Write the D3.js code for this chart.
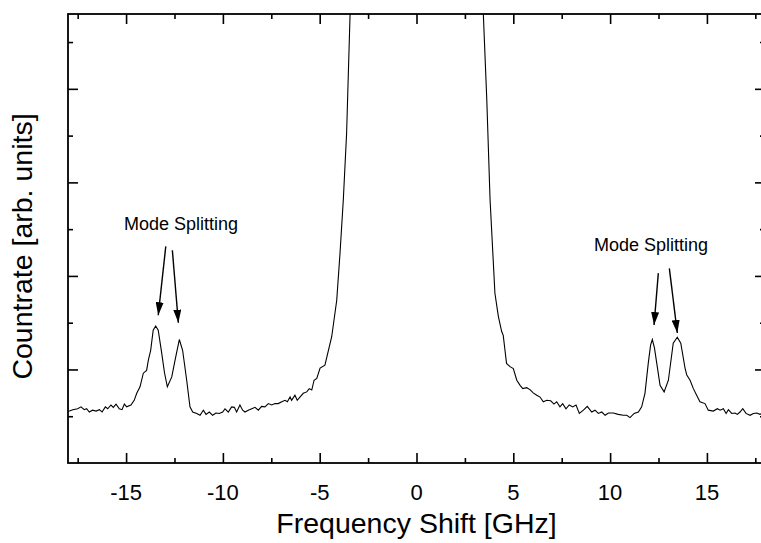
<!DOCTYPE html>
<html>
<head>
<meta charset="utf-8">
<script src="https://cdn.jsdelivr.net/npm/d3@7"></script>
<style>
body { margin: 0; background: #fff; }
svg text { font-family: "Liberation Sans", Arial, sans-serif; fill: #000; }
</style>
</head>
<body>
<div id="chart"></div>
<script>
var width = 761;
var height = 543;

// spectrum: frequency shift [GHz] and countrate [arb. units]
var shift = [
  -18.00,-17.93,-17.75,-17.50,-17.33,-17.16,-17.04,-16.90,-16.73,-16.55,
  -16.38,-16.24,-16.07,-15.95,-15.78,-15.66,-15.52,-15.35,-15.21,-15.09,
  -14.97,-14.75,-14.58,-14.45,-14.28,-14.11,-13.94,-13.85,-13.73,-13.60,
  -13.47,-13.34,-13.16,-13.02,-12.87,-12.64,-12.47,-12.25,-12.08,-11.87,
  -11.70,-11.56,-11.35,-11.18,-11.01,-10.87,-10.70,-10.53,-10.36,-10.19,
  -10.01,-9.89,-9.72,-9.55,-9.41,-9.29,-9.12,-8.98,-8.86,-8.69,
  -8.51,-8.34,-8.17,-8.00,-7.83,-7.65,-7.48,-7.31,-7.14,-6.96,
  -6.79,-6.67,-6.53,-6.45,-6.28,-6.16,-6.02,-5.85,-5.67,-5.54,
  -5.41,-5.29,-5.15,-4.98,-4.73,-4.38,-4.12,-3.95,-3.78,-3.61,
  -3.43,-3.20,-2.00,0.00,2.00,3.20,3.45,3.63,3.80,4.05,
  4.23,4.40,4.48,4.57,4.65,4.83,5.00,5.18,5.35,5.49,
  5.69,5.86,6.03,6.21,6.38,6.55,6.73,6.93,7.10,7.24,
  7.41,7.55,7.72,7.89,8.07,8.24,8.41,8.62,8.82,9.05,
  9.22,9.39,9.57,9.74,9.91,10.17,10.42,10.68,10.86,11.03,
  11.24,11.46,11.63,11.80,11.97,12.09,12.18,12.29,12.41,12.58,
  12.79,13.01,13.26,13.47,13.65,13.87,13.96,14.13,14.30,14.47,
  14.64,14.90,15.07,15.33,15.54,15.68,15.85,15.99,16.11,16.28,
  16.45,16.57,16.71,16.85,17.02,17.23,17.40,17.57,17.74,18.00
];
var counts = [
  1.10,1.11,1.14,1.16,1.20,1.14,1.16,1.09,1.13,1.11,
  1.14,1.09,1.20,1.16,1.24,1.19,1.26,1.16,1.14,1.26,
  1.20,1.24,1.34,1.49,1.63,1.92,1.98,2.20,2.41,2.84,
  2.93,2.84,2.35,1.94,1.63,1.84,2.20,2.64,2.41,1.77,
  1.20,1.09,1.06,1.02,1.13,1.04,1.09,1.02,1.07,1.06,
  1.09,1.16,1.09,1.20,1.19,1.09,1.24,1.13,1.09,1.13,
  1.16,1.19,1.13,1.21,1.20,1.27,1.24,1.27,1.27,1.31,
  1.34,1.31,1.41,1.34,1.45,1.34,1.41,1.49,1.52,1.59,
  1.56,1.77,1.81,2.03,2.09,2.70,3.48,4.49,5.63,7.05,
  9.61,13.0,30.0,60.0,30.0,13.0,9.62,7.77,5.63,3.63,
  3.13,2.81,2.73,2.41,2.13,2.06,2.02,1.77,1.66,1.59,
  1.61,1.57,1.50,1.45,1.41,1.31,1.34,1.33,1.26,1.31,
  1.20,1.27,1.16,1.24,1.20,1.24,1.06,1.13,1.21,1.09,
  1.13,1.06,1.09,1.02,1.07,1.07,1.04,1.02,1.02,0.97,
  1.06,1.09,1.20,1.49,2.13,2.52,2.64,2.46,2.13,1.66,
  1.52,1.77,2.56,2.69,2.56,2.03,1.88,1.77,1.59,1.45,
  1.31,1.27,1.13,1.11,1.16,1.13,1.16,1.06,1.14,1.06,
  1.07,1.04,1.09,1.16,1.06,1.02,1.06,1.07,1.04,1.09
];

// tick values
var majorX = [-15, -10, -5, 0, 5, 10, 15];
var minorX = [-17.5, -12.5, -7.5, -2.5, 2.5, 7.5, 12.5, 17.5];
var majorY = [2, 4, 6, 8];
var minorY = [1, 3, 5, 7, 9];

// annotations, in data units
var noteText = ["Mode Splitting", "Mode Splitting"];
var notePos = [[-12.16, 4.98], [12.11, 4.54]];
var arrowFrom = [[-12.95, 4.63], [-12.61, 4.55], [12.49, 4.06], [13.06, 4.16]];
var arrowTo = [[-13.34, 3.16], [-12.30, 3.00], [12.27, 2.95], [13.47, 2.78]];

window.onload = start;

function start() {
  var data = shift.map(function(f, i) { return { f: f, c: counts[i] }; });

  var left = 68, right = 765, top = 14, bottom = 463;
  var xScale = d3.scaleLinear().domain([-18, 18]).range([left, right]);
  var yScale = d3.scaleLinear().domain([0, 9.6]).range([bottom, top]);

  var chart = d3.select("#chart")
    .append("svg")
    .attr("width", width)
    .attr("height", height);

  chart.append("defs").append("clipPath")
    .attr("id", "plotclip")
    .append("rect")
    .attr("x", left).attr("y", top)
    .attr("width", right - left).attr("height", bottom - top);

  var head = chart.select("defs").append("marker")
    .attr("id", "head")
    .attr("viewBox", "0 0 13 8")
    .attr("refX", 13).attr("refY", 4)
    .attr("markerWidth", 13).attr("markerHeight", 8)
    .attr("markerUnits", "userSpaceOnUse")
    .attr("orient", "auto");
  head.append("path").attr("d", "M0,0L13,4L0,8Z").attr("fill", "#000");

  // spectrum line
  var line = d3.line()
    .x(function(d) { return xScale(d.f); })
    .y(function(d) { return yScale(d.c); });

  chart.append("path")
    .datum(data)
    .attr("clip-path", "url(#plotclip)")
    .attr("fill", "none")
    .attr("stroke", "#000")
    .attr("stroke-width", 1.1)
    .attr("d", line);

  // axes: ticks point inward on all four sides
  function tickAxis(axis, vals, size) {
    return axis.tickValues(vals).tickSizeInner(-size).tickSizeOuter(0).tickFormat("");
  }
  chart.append("g").attr("class", "ax").attr("transform", "translate(0," + bottom + ")").call(tickAxis(d3.axisBottom(xScale), majorX, 10));
  chart.append("g").attr("class", "ax").attr("transform", "translate(0," + top + ")").call(tickAxis(d3.axisTop(xScale), majorX, 10));
  chart.append("g").attr("class", "ax").attr("transform", "translate(0," + bottom + ")").call(tickAxis(d3.axisBottom(xScale), minorX, 5));
  chart.append("g").attr("class", "ax").attr("transform", "translate(0," + top + ")").call(tickAxis(d3.axisTop(xScale), minorX, 5));
  chart.append("g").attr("class", "ax").attr("transform", "translate(" + left + ",0)").call(tickAxis(d3.axisLeft(yScale), majorY, 10));
  chart.append("g").attr("class", "ax").attr("transform", "translate(" + left + ",0)").call(tickAxis(d3.axisLeft(yScale), minorY, 5));
  chart.append("g").attr("class", "ax").attr("transform", "translate(" + right + ",0)").call(tickAxis(d3.axisRight(yScale), majorY, 10));
  chart.append("g").attr("class", "ax").attr("transform", "translate(" + right + ",0)").call(tickAxis(d3.axisRight(yScale), minorY, 5));
  chart.selectAll(".ax .domain").remove();
  chart.selectAll(".ax line").attr("stroke", "#000").attr("stroke-width", 1.6);

  // bottom tick labels
  chart.append("g").selectAll("text")
    .data(majorX)
    .enter()
    .append("text")
    .attr("x", function(d) { return xScale(d); })
    .attr("y", 500)
    .attr("text-anchor", "middle")
    .style("font-size", "22px")
    .text(function(d) { return d; });

  // frame
  chart.append("rect")
    .attr("x", left).attr("y", top)
    .attr("width", right - left).attr("height", bottom - top)
    .attr("fill", "none")
    .attr("stroke", "#000")
    .attr("stroke-width", 1.8);

  // axis titles
  chart.append("text")
    .attr("x", (left + right) / 2)
    .attr("y", 533)
    .attr("text-anchor", "middle")
    .style("font-size", "28.5px")
    .text("Frequency Shift [GHz]");

  chart.append("text")
    .attr("transform", "translate(32," + ((top + bottom) / 2 + 8) + ") rotate(-90)")
    .attr("text-anchor", "middle")
    .style("font-size", "28.5px")
    .text("Countrate [arb. units]");

  // mode splitting notes and arrows
  chart.append("g").selectAll("text")
    .data(noteText)
    .enter()
    .append("text")
    .attr("x", function(d, i) { return xScale(notePos[i][0]); })
    .attr("y", function(d, i) { return yScale(notePos[i][1]); })
    .attr("text-anchor", "middle")
    .style("font-size", "18px")
    .text(function(d) { return d; });

  chart.append("g").selectAll("line")
    .data(arrowFrom)
    .enter()
    .append("line")
    .attr("x1", function(d) { return xScale(d[0]); })
    .attr("y1", function(d) { return yScale(d[1]); })
    .attr("x2", function(d, i) { return xScale(arrowTo[i][0]); })
    .attr("y2", function(d, i) { return yScale(arrowTo[i][1]); })
    .attr("stroke", "#000")
    .attr("stroke-width", 1.4)
    .attr("marker-end", "url(#head)");
}
</script>
</body>
</html>
